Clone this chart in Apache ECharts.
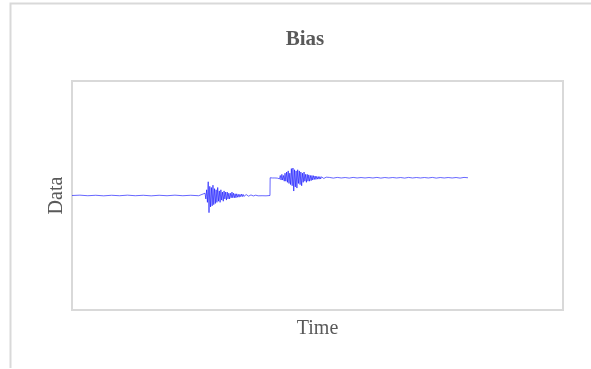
<!DOCTYPE html>
<html>
<head>
<meta charset="utf-8">
<script src="https://cdn.jsdelivr.net/npm/echarts@6/dist/echarts.min.js"></script>
<style>
html,body{margin:0;padding:0;background:#fff;}
#chart{width:591px;height:369px;}
</style>
</head>
<body>
<div id="chart"></div>
<script>
// Title and axis names
var titleText = "Bias";
var xName = "Time";
var yName = "Data";
var timeMax = 1240;

// Signal segments: start time, time step, values
var flat1Start = 0, flat1Step = 20;
var flat1 = [0,0.003,-0.002,0.002,-0.003,0.002,-0.002,0.003,-0.002,0.002,-0.003,0.002,-0.002,0.003,-0.002,0.002,-0.002];

var burst1Start = 336, burst1Step = 2;
var burst1 = [0.02,-0.03,0.05,-0.06,0.12,-0.15,0.08,-0.10,0.07,-0.09,0.09,-0.08,0.06,-0.07,0.05,-0.06,0.07,-0.05,0.04,-0.06,0.05,-0.04,0.03,-0.05,0.04,-0.03,0.03,-0.04,0.03,-0.03,0.02,-0.03,0.02,-0.02,0.03,-0.02,0.02,-0.02,0.015,-0.02,0.015,-0.015,0.01,-0.015,0.01,-0.01,0.012,-0.01,0.01,-0.008,0.008,-0.01,0.008,-0.008,0.006,-0.006,0.006,-0.005,0.005,-0.005,0.004,-0.004,0.004,-0.004,0.003];

var flat2Start = 470, flat2Step = 5;
var flat2 = [-0.003,0.003,-0.002,0.002,-0.003,0.002,0.0];

var stepStart = 500.4, stepStep = 3;
var stepSeg = [0.155,0.157,0.153,0.157,0.153,0.158,0.152];

var burst2Start = 522, burst2Step = 2;
var burst2 = [0.165,0.145,0.175,0.135,0.185,0.135,0.175,0.125,0.195,0.125,0.205,0.115,0.215,0.105,0.195,0.095,0.235,0.085,0.240,0.039,0.225,0.075,0.215,0.065,0.225,0.105,0.215,0.095,0.205,0.085,0.195,0.115,0.205,0.125,0.185,0.115,0.185,0.125,0.180,0.125,0.175,0.130,0.175,0.135,0.173,0.140,0.170,0.140,0.167,0.143,0.165,0.143,0.165,0.145,0.163,0.147,0.163,0.149,0.161,0.149,0.160,0.150];

var tailStart = 650, tailStep = 10;
var tail = [0.158,0.152,0.158,0.153,0.157,0.152,0.158,0.153,0.157,0.153,0.157,0.153,0.158,0.152,0.157,0.153,0.157,0.153,0.157,0.152,0.158,0.153,0.157,0.153,0.157,0.153,0.158,0.152,0.157,0.153,0.157,0.153,0.157,0.152,0.158,0.155];

var segments = [
  [flat1Start, flat1Step, flat1],
  [burst1Start, burst1Step, burst1],
  [flat2Start, flat2Step, flat2],
  [stepStart, stepStep, stepSeg],
  [burst2Start, burst2Step, burst2],
  [tailStart, tailStep, tail]
];
var seriesData = [];
segments.forEach(function (s) {
  s[2].forEach(function (v, i) { seriesData.push([s[0] + i * s[1], v]); });
});

var chart = echarts.init(document.getElementById('chart'), null, {renderer: 'canvas'});
var serif = '"Liberation Serif", "Times New Roman", serif';
chart.setOption({
  animation: false,
  title: {
    text: titleText, left: 300, top: 24, textAlign: 'center',
    textStyle: {fontFamily: serif, fontWeight: 'bold', fontSize: 21, color: '#595959'}
  },
  graphic: [{
    type: 'polyline', silent: true,
    shape: {points: [[10.5, 368], [10.5, 3.5], [591, 3.5]]},
    style: {stroke: '#d9d9d9', lineWidth: 2, fill: null}
  }],
  grid: {left: 72, top: 81, right: 28, bottom: 59, show: true, borderColor: '#d9d9d9', borderWidth: 2, backgroundColor: 'transparent'},
  xAxis: {
    type: 'value', min: 0, max: timeMax,
    name: xName, nameLocation: 'middle', nameGap: 9,
    nameTextStyle: {fontFamily: serif, fontSize: 20, color: '#595959', verticalAlign: 'top'},
    axisLine: {show: false}, axisTick: {show: false}, axisLabel: {show: false}, splitLine: {show: false}
  },
  yAxis: {
    type: 'value', min: -1, max: 1,
    name: yName, nameLocation: 'middle', nameGap: 5,
    nameTextStyle: {fontFamily: serif, fontSize: 20, color: '#595959'},
    axisLine: {show: false}, axisTick: {show: false}, axisLabel: {show: false}, splitLine: {show: false}
  },
  series: [{
    type: 'line', data: seriesData, showSymbol: false, symbol: 'none',
    lineStyle: {color: '#0000ff', width: 0.6}
  }]
});
</script>
</body>
</html>
